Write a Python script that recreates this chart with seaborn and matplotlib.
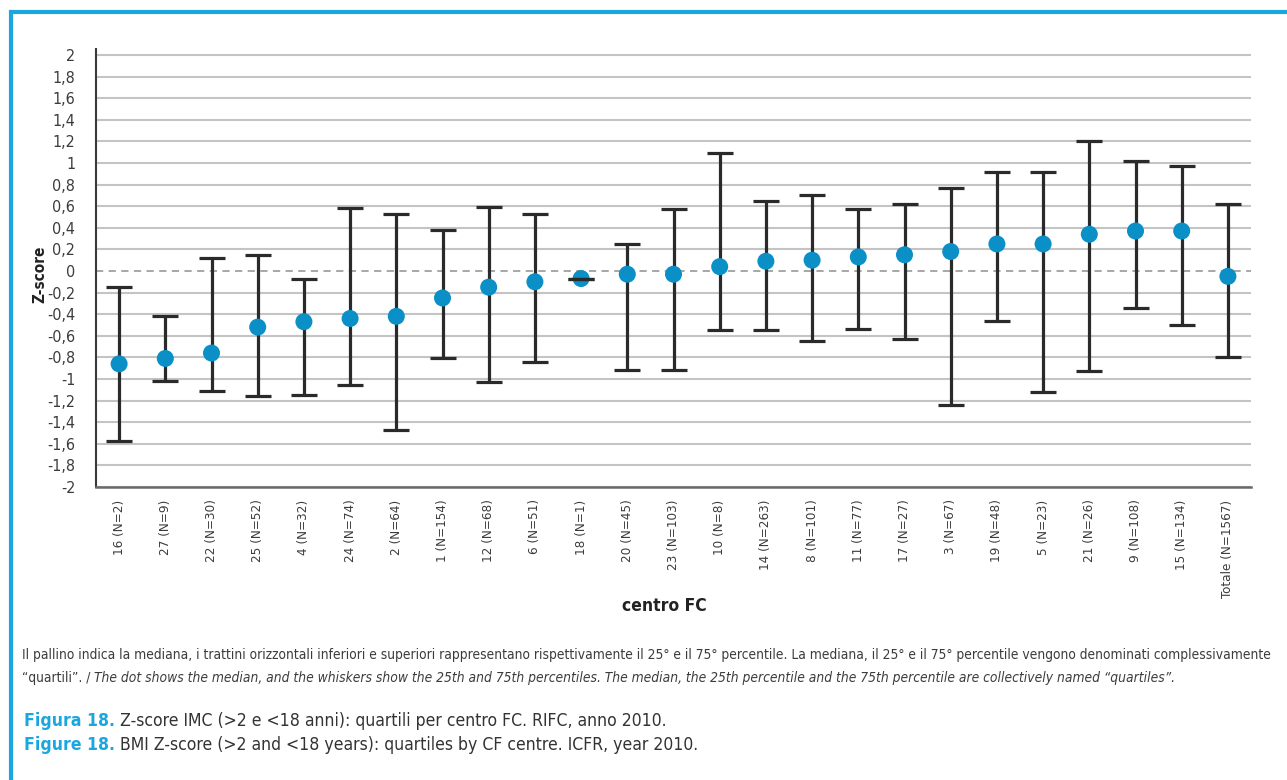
import numpy as np
import pandas as pd
import matplotlib
matplotlib.use("Agg")
import matplotlib.pyplot as plt
from matplotlib.patches import Rectangle
import seaborn as sns

# Centres (ordered by median) with number of patients
centres = ["16 (N=2)", "27 (N=9)", "22 (N=30)", "25 (N=52)", "4 (N=32)", "24 (N=74)",
           "2 (N=64)", "1 (N=154)", "12 (N=68)", "6 (N=51)", "18 (N=1)", "20 (N=45)",
           "23 (N=103)", "10 (N=8)", "14 (N=263)", "8 (N=101)", "11 (N=77)", "17 (N=27)",
           "3 (N=67)", "19 (N=48)", "5 (N=23)", "21 (N=26)", "9 (N=108)", "15 (N=134)",
           "Totale (N=1567)"]
median = [-0.86, -0.81, -0.76, -0.52, -0.47, -0.44, -0.42, -0.25, -0.15, -0.10, -0.07, -0.03,
          -0.03, 0.04, 0.09, 0.10, 0.13, 0.15, 0.18, 0.25, 0.25, 0.34, 0.37, 0.37, -0.05]
q25 = [-1.57, -1.02, -1.11, -1.16, -1.15, -1.06, -1.47, -0.81, -1.03, -0.84, -0.07, -0.92,
       -0.92, -0.55, -0.55, -0.65, -0.54, -0.63, -1.24, -0.46, -1.12, -0.93, -0.34, -0.50, -0.80]
q75 = [-0.15, -0.42, 0.12, 0.15, -0.07, 0.58, 0.53, 0.38, 0.59, 0.53, -0.07, 0.25,
       0.57, 1.09, 0.65, 0.70, 0.57, 0.62, 0.77, 0.92, 0.92, 1.20, 1.02, 0.97, 0.62]
yticks = np.round(np.arange(-2, 2.01, 0.2), 1)

TEXT = "#3c3c3c"
CYAN = "#1AA7E0"
DOT = "#0A8FC6"

sns.set_style("white")
plt.rcParams["font.family"] = ["DejaVu Sans"]
plt.rcParams["font.stretch"] = "condensed"

df = pd.DataFrame({"centre": centres, "median": median, "q25": q25, "q75": q75})

fig = plt.figure(figsize=(12.87, 7.8), dpi=100)
ax = fig.add_axes([96 / 1287, 1 - 487 / 780, (1251 - 96) / 1287, (487 - 49) / 780])

x = np.arange(len(df))
# whiskers: 25th to 75th percentile
eb = ax.errorbar(x, df["median"], yerr=[df["median"] - df["q25"], df["q75"] - df["median"]],
                 fmt="none", ecolor="#2a2a2a", elinewidth=2.3, capsize=9.5, capthick=2.3, zorder=3)
for cap in eb[1]:
    cap.set_zorder(5)

# medians
sns.scatterplot(data=df, x="centre", y="median", ax=ax, s=150, color=DOT,
                edgecolor="none", zorder=4, legend=False)


def fmt_tick(v):
    if abs(v) < 1e-9:
        return "0"
    return ("%g" % v).replace(".", ",")


ax.set_xlim(-0.5, len(df) - 0.5)
ax.set_ylim(-2, 2.055)
ax.set_yticks(yticks)
ax.set_yticklabels([fmt_tick(v) for v in yticks])
ax.yaxis.grid(True, color="#c4c4c4", linewidth=1.5)
ax.axhline(0, color="#a0a0a0", linewidth=1.3, linestyle=(0, (4, 3)), zorder=2)
# the zero gridline is replaced by the dashed line
for gl, v in zip(ax.get_ygridlines(), yticks):
    if abs(v) < 1e-9:
        gl.set_visible(False)
ax.set_axisbelow(True)

ax.tick_params(axis="y", length=11, width=1.5, color="#c4c4c4", labelsize=11.5,
               labelcolor=TEXT, pad=4)
ax.set_xticks(x)
ax.set_xticklabels(centres, rotation=90, fontsize=9.6, color=TEXT)
ax.tick_params(axis="x", length=0, pad=9)
ax.set_xticks(np.arange(-0.5, len(df) + 0.5, 1), minor=True)
ax.tick_params(axis="x", which="minor", length=8, width=1.5, color="#5a5a5a")

for s in ["top", "right"]:
    ax.spines[s].set_visible(False)
ax.spines["left"].set_color("#3a3a3a")
ax.spines["left"].set_linewidth(1.5)
ax.spines["bottom"].set_color("#6a6a6a")
ax.spines["bottom"].set_linewidth(1.8)

ax.set_xlabel("")
ax.set_ylabel("")
fig.text(40 / 1287, 1 - 274 / 780, "Z-score", rotation=90, ha="center", va="center",
         fontsize=11, fontweight="bold", color="#222222")
fig.text(664 / 1287, 1 - 606 / 780, "centro FC", ha="center", va="center",
         fontsize=12.5, fontweight="bold", color="#222222")

# frame around the figure
fig.patches.append(Rectangle((11 / 1287, -0.1), 1.2, 1 - 12 / 780 + 0.1,
                             transform=fig.transFigure, fill=False, edgecolor=CYAN,
                             linewidth=3, clip_on=False))

renderer = fig.canvas.get_renderer()


def text_run(x0, y0, parts, width=None):
    """Draw consecutive text pieces on one baseline; optionally scale them to a width."""
    texts = [fig.text(0, 0, s, ha="left", va="baseline", **kw) for s, kw in parts]
    if width is not None:
        total = sum(t.get_window_extent(renderer).width for t in texts)
        for t in texts:
            t.set_fontsize(t.get_fontsize() * width / total)
    xp = x0
    for t in texts:
        t.set_position((xp / 1287, 1 - y0 / 780))
        xp += t.get_window_extent(renderer).width
    return texts


note = ("Il pallino indica la mediana, i trattini orizzontali inferiori e superiori rappresentano "
        "rispettivamente il 25° e il 75° percentile. La mediana, il 25° e il 75° percentile "
        "vengono denominati complessivamente")
line1 = text_run(22, 659, [(note, dict(fontsize=10, color=TEXT))], width=1255)
note_size = line1[0].get_fontsize()
text_run(22, 682, [("“quartili”. / ", dict(fontsize=note_size, color=TEXT)),
                   ("The dot shows the median, and the whiskers show the 25th and 75th percentiles. "
                    "The median, the 25th percentile and the 75th percentile are collectively "
                    "named “quartiles”.", dict(fontsize=note_size, color=TEXT, style="italic"))])
fig_a = text_run(24, 726, [("Figura 18. ", dict(fontsize=13, color=CYAN, fontweight="bold")),
                           ("Z-score IMC (>2 e <18 anni): quartili per centro FC. RIFC, anno 2010.",
                            dict(fontsize=13, color="#333333"))], width=640)
fsz = fig_a[1].get_fontsize()
text_run(24, 750, [("Figure 18. ", dict(fontsize=fsz, color=CYAN, fontweight="bold")),
                   ("BMI Z-score (>2 and <18 years): quartiles by CF centre. ICFR, year 2010.",
                    dict(fontsize=fsz, color="#333333"))])

fig.savefig("out.png", dpi=100)
